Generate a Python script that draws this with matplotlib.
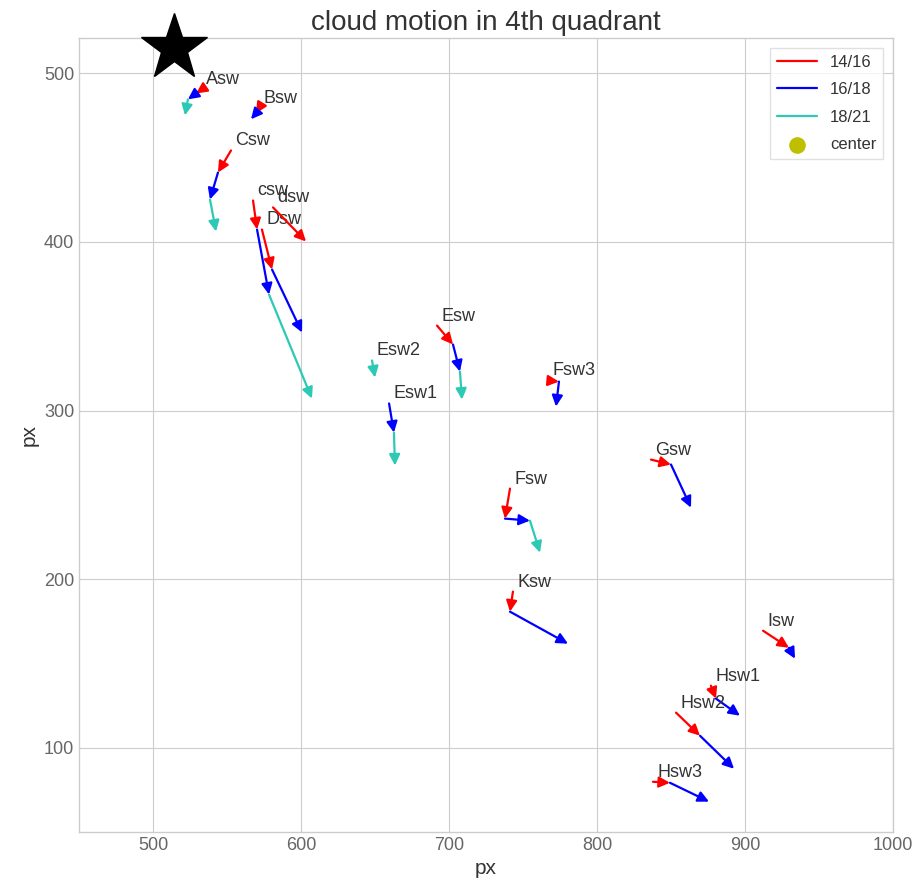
import matplotlib
matplotlib.use("Agg")
import matplotlib.pyplot as plt
from matplotlib.lines import Line2D

# cloud positions (px) at 14h, 16h, 18h, 21h; None = not tracked
sites = ["Asw", "Bsw", "Csw", "csw", "Dsw", "dsw", "Esw", "Esw2", "Esw1", "Fsw3",
         "Gsw", "Fsw", "Ksw", "Isw", "Hsw1", "Hsw2", "Hsw3"]
x14 = [533.1, 571.6, 552.7, 567.6, 573.6, 581.1, 691.9, None, None, 766.9,
       836.5, 741.2, 743.2, 912.2, 877.0, 853.4, 837.8]
y14 = [490.5, 479.2, 454.3, 424.6, 407.4, 420.5, 350.4, None, None, 317.8,
       270.9, 253.7, 192.6, 169.4, 136.8, 120.8, 79.8]
x16 = [529.1, 569.6, 543.9, 570.3, 580.4, 603.4, 702.7, None, 659.5, 774.3,
       850.0, 737.8, 741.2, 929.7, 880.4, 869.6, 849.3]
y16 = [488.1, 476.3, 441.2, 407.4, 383.7, 400.3, 339.2, None, 304.2, 317.2,
       268.0, 235.9, 180.7, 159.3, 129.1, 107.1, 79.2]
x18 = [523.6, 566.2, 538.5, 578.4, 600.7, None, 707.4, 648.0, 662.8, 772.3,
       863.5, 754.7, 780.4, 933.8, 896.6, 892.6, 875.7]
y18 = [484.6, 472.8, 425.2, 368.8, 346.3, None, 323.1, 329.7, 286.9, 302.4,
       242.4, 234.7, 161.7, 152.8, 119.0, 87.5, 68.0]
x21 = [521.6, None, 542.6, 607.4, None, None, 708.8, 650.0, 663.5, None,
       None, 761.5, None, None, None, None, None]
y21 = [475.1, None, 406.2, 307.1, None, None, 306.5, 319.6, 267.4, None,
       None, 215.7, None, None, None, None, None]

star_x, star_y = 514, 515

periods = ["14/16", "16/18", "18/21"]
colors = ["red", "blue", "#2cc9b5"]

plt.style.use("seaborn-v0_8-whitegrid")

fig = plt.figure(figsize=(9.14, 8.86), dpi=100)
ax = fig.add_axes([79 / 914, 1 - 832 / 886, (893 - 79) / 914, (832 - 38) / 886])


def draw_arrow(x0, y0, x1, y1, color):
    ax.annotate("", xy=(x1, y1), xytext=(x0, y0),
                arrowprops=dict(arrowstyle="-|>,head_length=0.65,head_width=0.32",
                                color=color, lw=1.6, shrinkA=0, shrinkB=0,
                                mutation_scale=10))


for i, name in enumerate(sites):
    xs = [x14[i], x16[i], x18[i], x21[i]]
    ys = [y14[i], y16[i], y18[i], y21[i]]
    for k in range(3):
        if xs[k] is not None and xs[k + 1] is not None:
            draw_arrow(xs[k], ys[k], xs[k + 1], ys[k + 1], colors[k])
    # label at first known position
    first = next(k for k in range(4) if xs[k] is not None)
    ax.text(xs[first] + 3, ys[first] + 3, name, fontsize=13, color="0.2")

ax.plot(star_x, star_y, marker="*", ms=50, color="black", clip_on=False, zorder=10)

handles = [Line2D([], [], color=c, lw=1.6, label=p) for c, p in zip(colors, periods)]
handles.append(ax.scatter([], [], s=120, color="y", label="center"))
leg = ax.legend(handles=handles, loc="upper right", fontsize=12, frameon=True,
                edgecolor="0.85", fancybox=False, labelspacing=0.75,
                handlelength=2.4, borderaxespad=0.6)
for t in leg.get_texts():
    t.set_color("0.2")

ax.set_xlim(450, 1000)
ax.set_ylim(50, 521)
ax.set_xticks([500, 600, 700, 800, 900, 1000])
ax.set_yticks([100, 200, 300, 400, 500])
ax.tick_params(labelsize=13, colors="0.4")
ax.set_xlabel("px", fontsize=15, color="0.2", labelpad=4)
ax.set_ylabel("px", fontsize=15, color="0.2")
ax.set_title("cloud motion in 4th quadrant", fontsize=20, color="0.2", pad=6)
for s in ax.spines.values():
    s.set_visible(True)
    s.set_color("0.8")

fig.savefig("out.png", dpi=100)
